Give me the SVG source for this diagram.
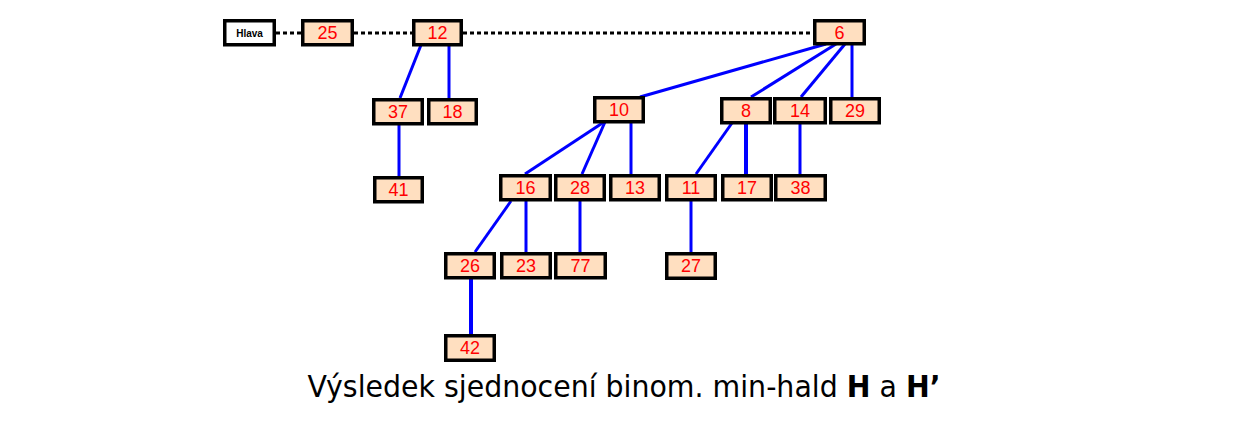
<svg xmlns="http://www.w3.org/2000/svg" width="1239" height="445" viewBox="0 0 1239 445">
<style>
.n rect{fill:#ffdfc0;stroke:#000;stroke-width:3.5}
.n text{font-family:"Liberation Sans",Arial,sans-serif;font-size:18px;fill:#ff0000;text-anchor:middle}
.e line{stroke:#0000ff;stroke-width:3}
.d line{stroke:#000;stroke-width:3;stroke-dasharray:4 3}
</style>
<rect width="1239" height="445" fill="#fff"/>
<g class="d">
<line x1="276" y1="33" x2="301" y2="33"/>
<line x1="354" y1="33" x2="412" y2="33"/>
<line x1="463" y1="33" x2="813" y2="33"/>
</g>
<g class="e">
<line x1="421" y1="45" x2="400" y2="98"/>
<line x1="449" y1="45" x2="449" y2="98"/>
<line x1="399" y1="124" x2="399" y2="176"/>
<line x1="826" y1="44" x2="640" y2="97"/>
<line x1="836" y1="44" x2="751" y2="97"/>
<line x1="845" y1="44" x2="801" y2="97"/>
<line x1="852" y1="44" x2="852" y2="97"/>
<line x1="604" y1="122" x2="525" y2="174"/>
<line x1="605" y1="122" x2="582" y2="174"/>
<line x1="631" y1="122" x2="631" y2="174"/>
<line x1="732" y1="123" x2="696" y2="174"/>
<line x1="746" y1="123" x2="746" y2="174" style="stroke-width:4"/>
<line x1="800" y1="123" x2="800" y2="174"/>
<line x1="511" y1="201" x2="475" y2="252"/>
<line x1="526" y1="201" x2="526" y2="252"/>
<line x1="580" y1="201" x2="580" y2="252"/>
<line x1="691" y1="201" x2="691" y2="252"/>
<line x1="471" y1="278" x2="471" y2="334" style="stroke-width:4"/>
</g>
<g id="hlava" class="n"><rect x="224.75" y="20.75" width="49.5" height="24" style="fill:#fff"/><text x="249.5" y="37" style="font-size:10px;font-weight:bold;fill:#000">Hlava</text></g>
<g id="n25" class="n"><rect x="302.75" y="20.75" width="49.5" height="24"/><text x="327.5" y="39">25</text></g>
<g id="n12" class="n"><rect x="413.75" y="20.75" width="47.5" height="24"/><text x="437.5" y="39">12</text></g>
<g id="n6" class="n"><rect x="814.75" y="20.75" width="49.5" height="23"/><text x="839.5" y="39">6</text></g>
<g id="n37" class="n"><rect x="373.75" y="99.75" width="48.5" height="24"/><text x="398" y="118">37</text></g>
<g id="n18" class="n"><rect x="428.75" y="99.75" width="47.5" height="24"/><text x="452.5" y="118">18</text></g>
<g id="n10" class="n"><rect x="594.75" y="97.75" width="48.5" height="24"/><text x="619" y="116">10</text></g>
<g id="n8" class="n"><rect x="721.75" y="98.75" width="48.5" height="24"/><text x="746" y="117">8</text></g>
<g id="n14" class="n"><rect x="774.75" y="98.75" width="50.5" height="24"/><text x="800" y="117">14</text></g>
<g id="n29" class="n"><rect x="830.75" y="98.75" width="48.5" height="24"/><text x="855" y="117">29</text></g>
<g id="n41" class="n"><rect x="374.75" y="177.75" width="47.5" height="24"/><text x="398.5" y="196">41</text></g>
<g id="n16" class="n"><rect x="500.75" y="175.75" width="49.5" height="24"/><text x="525.5" y="194">16</text></g>
<g id="n28" class="n"><rect x="555.75" y="175.75" width="48.5" height="24"/><text x="580" y="194">28</text></g>
<g id="n13" class="n"><rect x="610.75" y="175.75" width="48.5" height="24"/><text x="635" y="194">13</text></g>
<g id="n11" class="n"><rect x="666.75" y="175.75" width="48.5" height="24"/><text x="691" y="194">11</text></g>
<g id="n17" class="n"><rect x="722.75" y="175.75" width="48.5" height="24"/><text x="747" y="194">17</text></g>
<g id="n38" class="n"><rect x="775.75" y="175.75" width="49.5" height="24"/><text x="800.5" y="194">38</text></g>
<g id="n26" class="n"><rect x="445.75" y="253.75" width="48.5" height="24"/><text x="470" y="272">26</text></g>
<g id="n23" class="n"><rect x="501.75" y="253.75" width="48.5" height="24"/><text x="526" y="272">23</text></g>
<g id="n77" class="n"><rect x="555.75" y="253.75" width="49.5" height="24"/><text x="580.5" y="272">77</text></g>
<g id="n27" class="n"><rect x="666.75" y="253.75" width="48.5" height="24.5"/><text x="691" y="272">27</text></g>
<g id="n42" class="n"><rect x="445.75" y="335.75" width="48.5" height="24.5"/><text x="470" y="354">42</text></g>
<text x="624" y="397" text-anchor="middle" textLength="633" lengthAdjust="spacingAndGlyphs" style="font-family:'DejaVu Sans Condensed','DejaVu Sans',sans-serif;font-size:30px;fill:#000">Výsledek sjednocení binom. min-hald <tspan font-weight="bold">H</tspan> a <tspan font-weight="bold">H’</tspan></text>
</svg>
